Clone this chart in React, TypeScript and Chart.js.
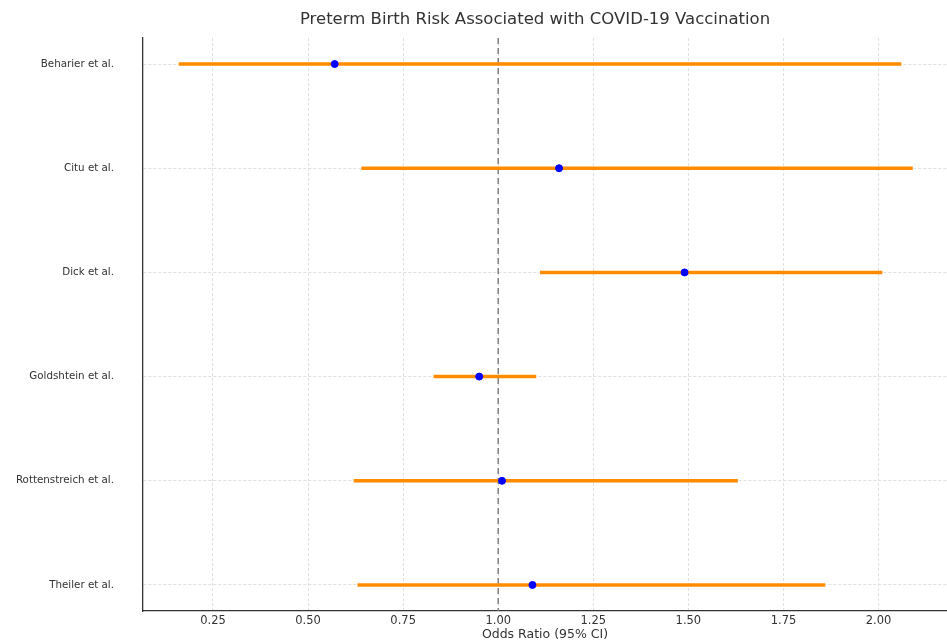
import React, { useEffect, useRef } from "react";
import { Chart, registerables } from "chart.js";

Chart.register(...registerables);

const studies = [
  "Beharier et al.",
  "Citu et al.",
  "Dick et al.",
  "Goldshtein et al.",
  "Rottenstreich et al.",
  "Theiler et al.",
];
const oddsRatio = [0.57, 1.16, 1.49, 0.95, 1.01, 1.09];
const ciLower = [0.16, 0.64, 1.11, 0.83, 0.62, 0.63];
const ciUpper = [2.06, 2.09, 2.01, 1.1, 1.63, 1.86];
const xTicks = [0.25, 0.5, 0.75, 1.0, 1.25, 1.5, 1.75, 2.0];
const titleText = "Preterm Birth Risk Associated with COVID-19 Vaccination";
const xLabel = "Odds Ratio (95% CI)";
const FONT = "'DejaVu Sans', sans-serif";

export default function App() {
  const ref = useRef<HTMLCanvasElement | null>(null);
  useEffect(() => {
    document.body.style.margin = "0";
    const ctx = ref.current!;
    const ciSets = studies.map((s, i) => ({
      type: "scatter" as const,
      label: s + " CI",
      data: [
        { x: ciLower[i], y: i },
        { x: ciUpper[i], y: i },
      ],
      showLine: true,
      borderColor: "#ff8c00",
      borderWidth: 3.5,
      pointRadius: 0,
      order: 2,
    }));
    const titlePlugin = {
      id: "customTitle",
      afterDraw(chart: any) {
        const c = chart.ctx;
        c.save();
        c.font = `16.5px ${FONT}`;
        c.fillStyle = "#333333";
        c.textAlign = "center";
        c.textBaseline = "middle";
        c.fillText(titleText, 535, 20);
        c.restore();
      },
    };
    const chart = new Chart(ctx, {
      type: "scatter",
      data: {
        datasets: [
          {
            label: "null line",
            data: [
              { x: 1, y: -0.25 },
              { x: 1, y: 5.25 },
            ],
            showLine: true,
            borderColor: "#808080",
            borderWidth: 1.5,
            borderDash: [6, 4],
            pointRadius: 0,
            order: 3,
          } as any,
          ...ciSets,
          {
            label: "Odds Ratio",
            data: studies.map((_, i) => ({ x: oddsRatio[i], y: i })),
            backgroundColor: "#0000ff",
            borderColor: "#0000ff",
            pointRadius: 3.5,
            order: 1,
          },
        ],
      },
      options: {
        animation: false,
        responsive: false,
        maintainAspectRatio: false,
        layout: { autoPadding: false, padding: { top: 38, right: 0, left: 0, bottom: 0 } },
        plugins: {
          legend: { display: false },
          tooltip: { enabled: false },
          title: { display: false },
        },
        scales: {
          x: {
            type: "linear",
            min: 0.066,
            max: 2.18,
            afterBuildTicks(scale: any) {
              scale.ticks = xTicks.map((v) => ({ value: v }));
            },
            afterFit(scale: any) {
              scale.height = 32;
              scale.paddingLeft = 0;
              scale.paddingRight = 0;
            },
            ticks: {
              font: { family: FONT, size: 11.5 },
              color: "#333333",
              padding: 3,
              callback: (v: any) => Number(v).toFixed(2),
            },
            grid: {
              color: "#d8d8d8",
              lineWidth: 0.8,
              drawTicks: false,
            },
            border: { display: true, color: "#333333", width: 1.3, dash: [3, 2] },
            title: {
              display: true,
              text: xLabel,
              font: { family: FONT, size: 12.5 },
              color: "#333333",
              padding: { top: 1, bottom: 1 },
            },
          },
          y: {
            type: "linear",
            min: -0.25,
            max: 5.25,
            reverse: true,
            afterBuildTicks(scale: any) {
              scale.ticks = studies.map((_, i) => ({ value: i }));
            },
            afterFit(scale: any) {
              scale.width = 143;
              scale.paddingTop = 0;
              scale.paddingBottom = 0;
            },
            ticks: {
              font: { family: FONT, size: 10.3 },
              color: "#333333",
              padding: 29,
              callback: (v: any) => studies[Math.round(Number(v))] ?? "",
            },
            grid: {
              color: "#d8d8d8",
              lineWidth: 0.8,
              drawTicks: false,
            },
            border: { display: true, color: "#333333", width: 1.3, dash: [3, 2] },
          },
        },
      },
      plugins: [titlePlugin],
    } as any);
    return () => chart.destroy();
  }, []);
  return (
    <div style={{ width: 947, height: 643, background: "#ffffff" }}>
      <canvas ref={ref} width={947} height={643} style={{ display: "block" }} />
    </div>
  );
}
